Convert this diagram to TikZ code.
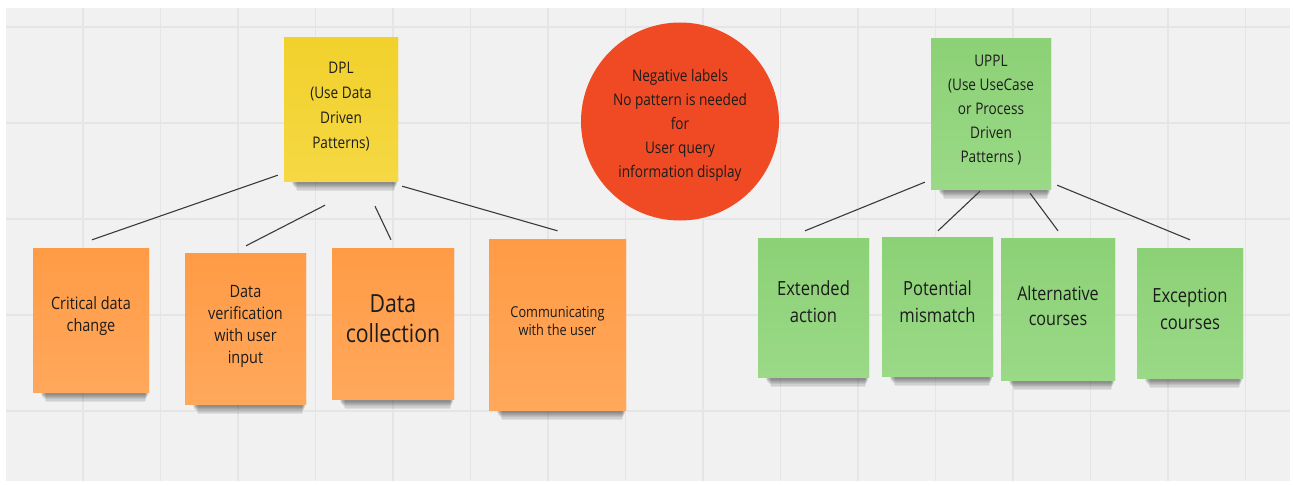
\documentclass[tikz,border=0pt]{standalone}
\usepackage{fontspec}
\setmainfont{Open Sans}[FakeStretch=0.85]
\definecolor{canvas}{HTML}{F1F1F1}
\definecolor{gridc}{HTML}{E5E5E5}
\definecolor{ink}{HTML}{1C1C1C}
\definecolor{wire}{HTML}{3A3A3A}
\definecolor{yelA}{HTML}{F2D12C}
\definecolor{yelB}{HTML}{F5D843}
\definecolor{orA}{HTML}{FF9B46}
\definecolor{orB}{HTML}{FFA85B}
\definecolor{grA}{HTML}{8CD176}
\definecolor{grB}{HTML}{9AD986}
\definecolor{redc}{HTML}{F04A25}
\tikzset{
  sticky/.style={rectangle, inner sep=0pt, draw=none},
  yellownote/.style={sticky, top color=yelA, bottom color=yelB},
  orangenote/.style={sticky, top color=orA, bottom color=orB},
  greennote/.style={sticky, top color=grA, bottom color=grB},
  lbl/.style={align=center, text=ink, inner sep=0pt},
  link/.style={draw=wire, line width=1.1pt},
  gridline/.style={draw=gridc, line width=1.6pt}
}
% soft shadow strip under a sticky note
\newcommand\noteshadow[1]{%
  \foreach \k in {1,...,8}{%
    \fill[black, opacity=0.07] ([shift={(6+0.9*\k,-4)}]#1.south west) rectangle ([shift={(-0.5*\k,1.2*\k)}]#1.south east);
  }%
}
\begin{document}
\begin{tikzpicture}[x=1pt,y=-1pt]
\useasboundingbox (0,0) rectangle (1294,485);
\fill[white] (0,0) rectangle (1294,485);
\fill[canvas] (6,8) rectangle (1290,481);
% board grid
\foreach \i in {0,...,15}{\draw[gridline] ({83+\i*77.5},8) -- ({83+\i*77.5},481);}
\foreach \j in {27,123,219,315,411}{\draw[gridline] (6,\j) -- (1290,\j);}

% note frames
\node[yellownote, minimum width=114, minimum height=144] (dpl) at (341,109) {};
\node[greennote, minimum width=120, minimum height=151] (uppl) at (991,113.5) {};
\node[orangenote, minimum width=116, minimum height=144] (crit) at (91,320) {};
\node[orangenote, minimum width=121, minimum height=151] (verif) at (245.5,328.5) {};
\node[orangenote, minimum width=122, minimum height=151] (coll) at (393,323.5) {};
\node[orangenote, minimum width=137, minimum height=171] (comm) at (557.5,324.5) {};
\node[greennote, minimum width=111, minimum height=139] (ext) at (813.5,307.5) {};
\node[greennote, minimum width=111, minimum height=139] (pot) at (937.5,306.5) {};
\node[greennote, minimum width=114, minimum height=142] (alt) at (1058,309) {};
\node[greennote, minimum width=106, minimum height=130] (exc) at (1190,313) {};

\foreach \n in {dpl,uppl,crit,verif,coll,comm,ext,pot,alt,exc}{\noteshadow{\n}}
% notes again, above their shadows
\node[yellownote, minimum width=114, minimum height=144] at (dpl) {};
\node[greennote, minimum width=120, minimum height=151] at (uppl) {};
\node[orangenote, minimum width=116, minimum height=144] at (crit) {};
\node[orangenote, minimum width=121, minimum height=151] at (verif) {};
\node[orangenote, minimum width=122, minimum height=151] at (coll) {};
\node[orangenote, minimum width=137, minimum height=171] at (comm) {};
\node[greennote, minimum width=111, minimum height=139] at (ext) {};
\node[greennote, minimum width=111, minimum height=139] at (pot) {};
\node[greennote, minimum width=114, minimum height=142] at (alt) {};
\node[greennote, minimum width=106, minimum height=130] at (exc) {};

% red circle
\node[circle, fill=redc, minimum size=198, inner sep=0pt] (neg) at (680,121.5) {};

% texts
\node[lbl, font=\fontsize{16}{25}\selectfont] (dplt) at ([yshift=2pt]dpl.center) {DPL\\(Use Data\\Driven\\Patterns)};
\node[lbl, font=\fontsize{16}{24}\selectfont] (upplt) at ([yshift=3pt]uppl.center) {UPPL\\(Use UseCase\\or Process\\Driven\\Patterns )};
\node[lbl, font=\fontsize{16}{24}\selectfont] (negt) at ([yshift=-4pt]neg.center) {Negative labels\\No pattern is needed\\for\\User query\\information display};
\node[lbl, font=\fontsize{17}{22}\selectfont] (critt) at ([yshift=4pt]crit.center) {Critical data\\change};
\node[lbl, font=\fontsize{17}{22}\selectfont] (veriftt) at ([yshift=2pt]verif.center) {Data\\verification\\with user\\input};
\node[lbl, font=\fontsize{25}{30}\selectfont] (collt) at ([yshift=5pt]coll.center) {Data\\collection};
\node[lbl, font=\fontsize{15}{18}\selectfont] (commt) at ([yshift=3.5pt]comm.center) {Communicating\\with the user};
\node[lbl, font=\fontsize{19.5}{27}\selectfont] (extt) at ([yshift=5.5pt]ext.center) {Extended\\action};
\node[lbl, font=\fontsize{19.5}{27}\selectfont] (pott) at ([yshift=4.5pt]pot.center) {Potential\\mismatch};
\node[lbl, font=\fontsize{19}{25}\selectfont] (altt) at ([yshift=3pt]alt.center) {Alternative\\courses};
\node[lbl, font=\fontsize{19.5}{27}\selectfont] (exct) at ([yshift=4pt]exc.center) {Exception\\courses};

% connectors
\draw[link] ([shift={(-6,-6)}]dpl.south west) -- ([shift={(1,-8)}]crit.north);
\draw[link] ([shift={(-16,24)}]dpl.south) -- ([shift={(0.5,-7)}]verif.north);
\draw[link] ([shift={(34,25)}]dpl.south) -- ([shift={(-2,-8)}]coll.north);
\draw[link] ([shift={(4,5)}]dpl.south east) -- ([shift={(0,-8)}]comm.north);
\draw[link] ([shift={(-6,-7)}]uppl.south west) -- ([shift={(-8.5,-7)}]ext.north);
\draw[link] ([shift={(-11,2)}]uppl.south) -- ([shift={(0.5,-6)}]pot.north);
\draw[link] ([shift={(39,4)}]uppl.south) -- ([shift={(0,-7)}]alt.north);
\draw[link] ([shift={(6,-4)}]uppl.south east) -- ([shift={(0,-8)}]exc.north);
\end{tikzpicture}
\end{document}
